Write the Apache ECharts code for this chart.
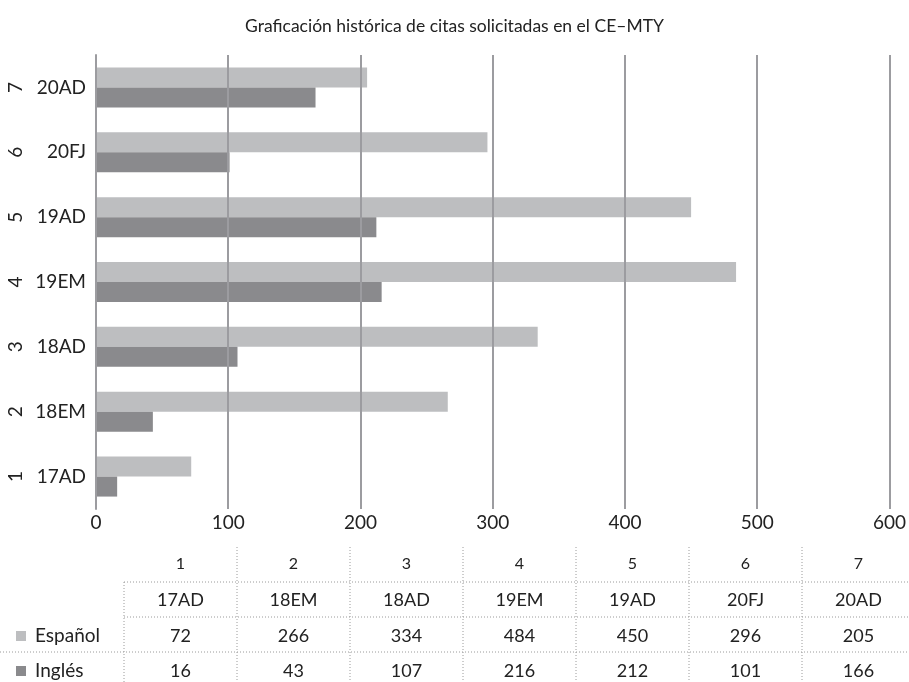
<!DOCTYPE html>
<html>
<head>
<meta charset="utf-8">
<script src="https://cdn.jsdelivr.net/npm/echarts@6/dist/echarts.min.js"></script>
<style>
  html, body { margin: 0; padding: 0; background: #fff; }
  #chart { width: 909px; height: 682px; }
</style>
</head>
<body>
<div id="chart"></div>
<script>
// Period codes and their running index
const categories = ['17AD', '18EM', '18AD', '19EM', '19AD', '20FJ', '20AD'];
const indices = ['1', '2', '3', '4', '5', '6', '7'];

// Requested appointments per language
const espanol = [72, 266, 334, 484, 450, 296, 205];
const ingles = [16, 43, 107, 216, 212, 101, 166];

// Value axis ticks
const xMin = 0;
const xMax = 600;
const xStep = 100;

const titleText = 'Graficación histórica de citas solicitadas en el CE–MTY';
const seriesNames = ['Español', 'Inglés'];

const COLOR_ES = '#bdbec0';
const COLOR_EN = '#8a8a8d';
const GRID_COLOR = '#9c9ca0';
const FONT = 'Lato, "Noto Sans", sans-serif';

const chart = echarts.init(document.getElementById('chart'), null, { renderer: 'canvas' });

// Data table under the plot
function buildTable() {
  const colLeft = 124, colW = 113, right = 909;
  const rowY = [564, 600, 636, 671];
  const els = [];
  const dotted = { stroke: '#9a9a9a', lineWidth: 1, lineDash: [1, 2] };
  const txt = (text, x, y, size, align) => ({
    type: 'text', x: x, y: y, silent: true,
    style: { text: text, font: size + 'px ' + FONT, fill: '#222',
             align: align || 'center', verticalAlign: 'middle' }
  });
  for (let i = 0; i < categories.length; i++) {
    const cx = colLeft + colW * (i + 0.5);
    els.push(txt(indices[i], cx, rowY[0], 16));
    els.push(txt(categories[i], cx, rowY[1], 18));
    els.push(txt(String(espanol[i]), cx, rowY[2], 18));
    els.push(txt(String(ingles[i]), cx, rowY[3], 18));
  }
  // horizontal rules
  els.push({ type: 'line', silent: true, shape: { x1: colLeft, y1: 582, x2: right, y2: 582 }, style: dotted });
  els.push({ type: 'line', silent: true, shape: { x1: colLeft, y1: 617, x2: right, y2: 617 }, style: dotted });
  els.push({ type: 'line', silent: true, shape: { x1: 0, y1: 652, x2: right, y2: 652 }, style: dotted });
  // vertical rules
  els.push({ type: 'line', silent: true, shape: { x1: colLeft, y1: 582, x2: colLeft, y2: 682 }, style: dotted });
  for (let i = 1; i < categories.length; i++) {
    const x = colLeft + colW * i;
    els.push({ type: 'line', silent: true, shape: { x1: x, y1: 547, x2: x, y2: 682 }, style: dotted });
  }
  // legend keys
  els.push({ type: 'rect', silent: true, shape: { x: 16, y: 631, width: 10, height: 10 }, style: { fill: COLOR_ES } });
  els.push(txt(seriesNames[0], 35, rowY[2], 19, 'left'));
  els.push({ type: 'rect', silent: true, shape: { x: 16, y: 666, width: 10, height: 10 }, style: { fill: COLOR_EN } });
  els.push(txt(seriesNames[1], 35, rowY[3], 19, 'left'));
  return els;
}

const option = {
  backgroundColor: '#ffffff',
  animation: false,
  title: {
    text: titleText,
    left: 'center',
    top: 12,
    textStyle: { fontFamily: FONT, fontSize: 17.5, fontWeight: 'normal', color: '#222' }
  },
  grid: { left: 96, right: 16, top: 55, bottom: 173, containLabel: false },
  xAxis: {
    type: 'value',
    min: xMin,
    max: xMax,
    interval: xStep,
    z: 5,
    axisLine: { show: false },
    axisTick: { show: false },
    axisLabel: { fontFamily: FONT, fontSize: 19, color: '#222', margin: 4 },
    splitLine: { show: true, lineStyle: { color: GRID_COLOR, width: 2 } }
  },
  yAxis: [
    {
      type: 'category',
      data: categories,
      position: 'left',
      z: 5,
      axisLine: { show: true, lineStyle: { color: GRID_COLOR, width: 2 } },
      axisTick: { show: false },
      axisLabel: { fontFamily: FONT, fontSize: 19, color: '#222', margin: 10 }
    },
    {
      type: 'category',
      data: indices,
      position: 'left',
      offset: 80,
      axisLine: { show: false },
      axisTick: { show: false },
      axisLabel: {
        fontFamily: FONT, fontSize: 19, color: '#222', margin: 0,
        rotate: 90, align: 'center', verticalAlign: 'middle'
      }
    }
  ],
  series: [
    {
      name: seriesNames[0],
      type: 'bar',
      data: espanol,
      barWidth: 20,
      barGap: '0%',
      itemStyle: { color: COLOR_ES }
    },
    {
      name: seriesNames[1],
      type: 'bar',
      data: ingles,
      barWidth: 20,
      barGap: '0%',
      itemStyle: { color: COLOR_EN }
    }
  ],
  graphic: buildTable()
};

chart.setOption(option);
</script>
</body>
</html>
